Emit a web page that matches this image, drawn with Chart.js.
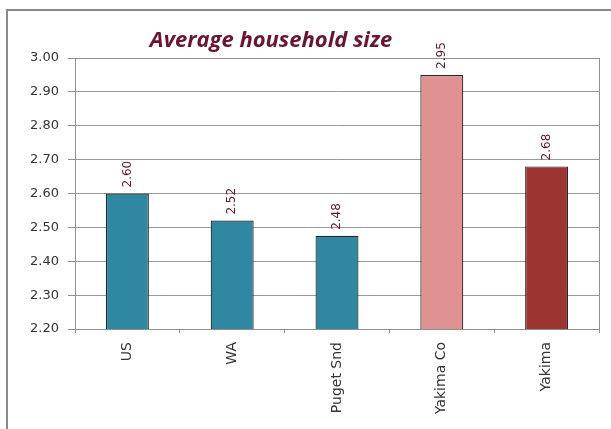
<!DOCTYPE html>
<html>
<head>
<meta charset="utf-8">
<script src="https://cdn.jsdelivr.net/npm/chart.js@4"></script>
<style>
  html, body { margin: 0; padding: 0; background: #fff; overflow: hidden; }
  #wrap { position: relative; width: 611px; height: 429px; }
  #frame { position: absolute; left: 6px; top: 9px; width: 700px; height: 500px;
           border: 2px solid #8a8a8a; box-sizing: border-box; }
  canvas { position: absolute; left: 0; top: 0; }
</style>
</head>
<body>
<div id="wrap">
  <div id="frame"></div>
  <canvas id="myChart" width="611" height="429"></canvas>
</div>
<script>
const categories = ['US', 'WA', 'Puget Snd', 'Yakima Co', 'Yakima'];
const householdSize = [2.60, 2.52, 2.475, 2.95, 2.68];
const valueLabels = ['2.60', '2.52', '2.48', '2.95', '2.68'];
const barColors = ['#2f87a1', '#2f87a1', '#2f87a1', '#e09191', '#9c3431'];
const titleText = 'Average household size';

const FONT = "'DejaVu Sans', Verdana, sans-serif";

// title, value labels and the frame round the plot
const decorations = {
    id: 'decorations',
    afterDraw(chart) {
        const ctx = chart.ctx;
        const area = chart.chartArea;
        ctx.save();

        ctx.strokeStyle = '#8f8f8f';
        ctx.lineWidth = 1;
        ctx.strokeRect(Math.round(area.left) + 0.5, Math.round(area.top) + 0.5,
            Math.round(area.right - area.left), Math.round(area.bottom - area.top));

        ctx.fillStyle = '#6a1531';
        ctx.font = "italic bold 22px 'Open Sans', sans-serif";
        ctx.textAlign = 'center';
        ctx.textBaseline = 'alphabetic';
        ctx.fillText(titleText, 271, 47);

        const meta = chart.getDatasetMeta(0);
        ctx.font = '12px ' + FONT;
        ctx.fillStyle = '#5e1a2c';
        meta.data.forEach((bar, i) => {
            ctx.save();
            ctx.translate(bar.x, bar.y - 6);
            ctx.rotate(-Math.PI / 2);
            ctx.textAlign = 'left';
            ctx.textBaseline = 'middle';
            ctx.fillText(valueLabels[i], 0, 0);
            ctx.restore();
        });
        ctx.restore();
    }
};

const ctx = document.getElementById('myChart').getContext('2d');
const chart = new Chart(ctx, {
    type: 'bar',
    data: {
        labels: categories,
        datasets: [{
            data: householdSize,
            backgroundColor: barColors,
            borderColor: '#262626',
            borderWidth: 1.2,
            borderSkipped: false,
            barPercentage: 0.41,
            categoryPercentage: 1
        }]
    },
    options: {
        responsive: false,
        animation: false,
        layout: { padding: { top: 58, right: 12, left: 0, bottom: 0 } },
        plugins: {
            legend: { display: false },
            tooltip: { enabled: false }
        },
        scales: {
            x: {
                afterFit: scale => { scale.height = 100; },
                grid: {
                    offset: true,
                    drawOnChartArea: false,
                    tickLength: 4,
                    tickColor: '#8f8f8f'
                },
                border: { color: '#8f8f8f' },
                ticks: {
                    color: '#333',
                    font: { family: FONT, size: 14 },
                    minRotation: 90,
                    maxRotation: 90,
                    padding: 9
                }
            },
            y: {
                min: 2.2,
                max: 3.0,
                afterFit: scale => { scale.width = 75; },
                grid: {
                    color: '#9a9a9a',
                    tickLength: 7,
                    tickColor: '#8f8f8f'
                },
                border: { color: '#8f8f8f' },
                ticks: {
                    stepSize: 0.1,
                    color: '#333',
                    padding: 9,
                    font: { family: FONT, size: 13 },
                    callback: value => value.toFixed(2)
                }
            }
        }
    },
    plugins: [decorations]
});
</script>
</body>
</html>
